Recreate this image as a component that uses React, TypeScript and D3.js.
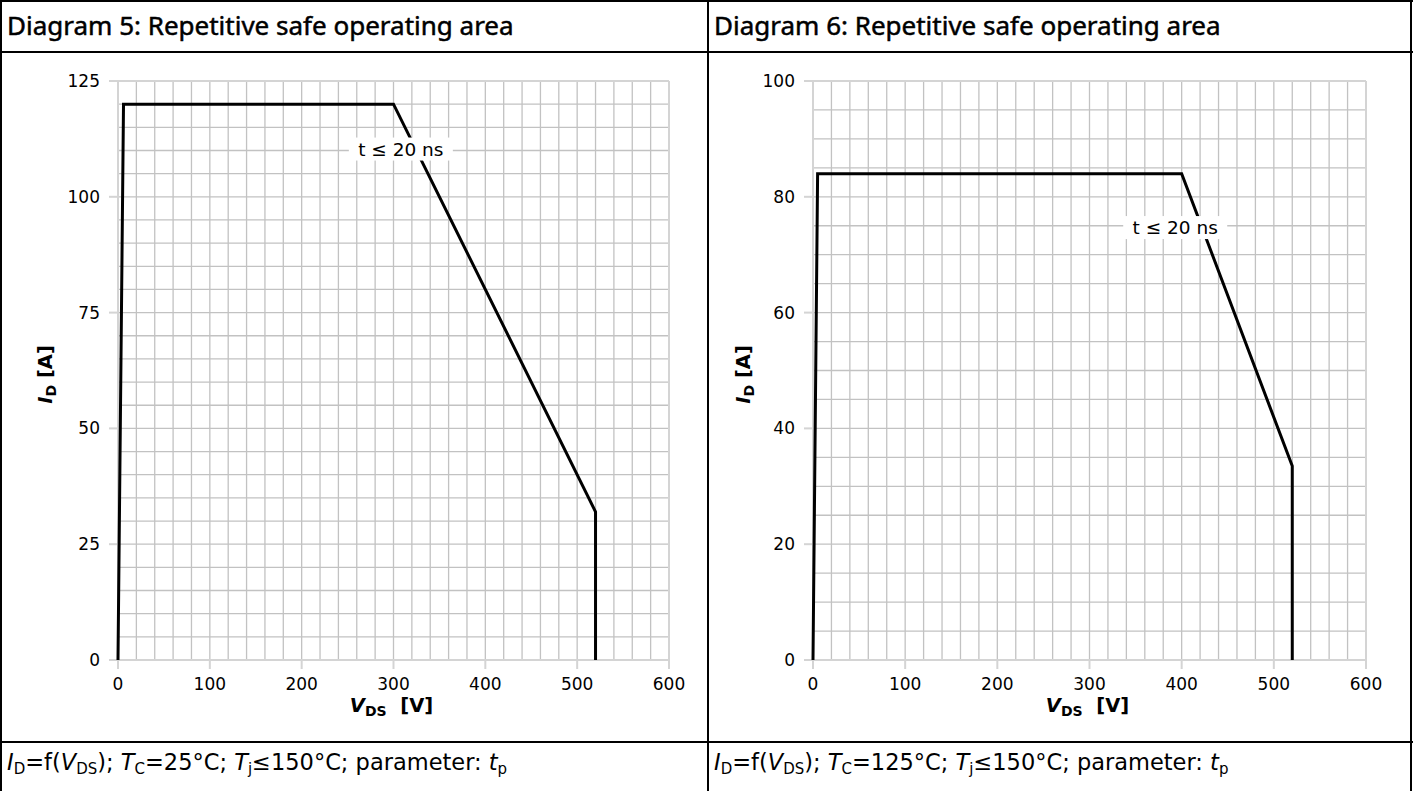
import React from "react";
import * as d3 from "d3";

const W = 1413;
const H = 791;

// Diagram 5 (T_C = 25°C)
const d5Vds = [0, 6, 300, 520, 520];
const d5Id = [0, 120, 120, 32, 0];
// Diagram 6 (T_C = 125°C)
const d6Vds = [0, 5, 400, 520, 520];
const d6Id = [0, 84, 84, 33.5, 0];

const xTicks = [0, 100, 200, 300, 400, 500, 600];
const d5YTicks = [0, 25, 50, 75, 100, 125];
const d6YTicks = [0, 20, 40, 60, 80, 100];

const titles = ["Diagram 5: Repetitive safe operating area", "Diagram 6: Repetitive safe operating area"];
const tcValues = ["25", "125"];
const curveLabel = "t ≤ 20 ns";

const TICK_FONT = "'DejaVu Sans', sans-serif";
const TITLE_FONT = "'Noto Sans', sans-serif";
const NB = "\u00A0";

type PanelProps = {
  x0: number;
  x1: number;
  yMax: number;
  yTicks: number[];
  vds: number[];
  id: number[];
  labelAt: [number, number];
  yLabelX: number;
};

function Panel({ x0, x1, yMax, yTicks, vds, id, labelAt, yLabelX }: PanelProps) {
  const x = d3.scaleLinear().domain([0, 600]).range([x0, x1]);
  const y = d3.scaleLinear().domain([0, yMax]).range([660, 81]);
  const minorX = d3.range(0, 601, 20);
  const minorY = d3.range(0, yMax + 0.001, 5);
  const pts: [number, number][] = vds.map((v, i) => [v, id[i]]);
  const line = d3
    .line<[number, number]>()
    .x((d) => x(d[0]))
    .y((d) => y(d[1]));
  const [lx, ly] = labelAt;
  const lxp = x(lx);
  const lyp = y(ly);
  return (
    <g>
      {minorX.map((v) => (
        <line key={"gx" + v} x1={x(v)} x2={x(v)} y1={y(0)} y2={y(yMax)} stroke="#c2c2c2" strokeWidth={1.3} />
      ))}
      {minorY.map((v) => (
        <line key={"gy" + v} x1={x(0)} x2={x(600)} y1={y(v)} y2={y(v)} stroke="#c2c2c2" strokeWidth={1.3} />
      ))}
      <line x1={x(0)} x2={x(600)} y1={y(yMax)} y2={y(yMax)} stroke="#d4d4d4" strokeWidth={2} />
      <line x1={x(600)} x2={x(600)} y1={y(0)} y2={y(yMax)} stroke="#d4d4d4" strokeWidth={2} />
      <line x1={x(0)} x2={x(600)} y1={y(0)} y2={y(0)} stroke="#d4d4d4" strokeWidth={2} />
      <line x1={x(0)} x2={x(0)} y1={y(0)} y2={y(yMax)} stroke="#d4d4d4" strokeWidth={2} />
      {xTicks.map((v) => (
        <g key={"xt" + v}>
          <line x1={x(v)} x2={x(v)} y1={y(0)} y2={y(0) + 9} stroke="#d4d4d4" strokeWidth={2} />
          <text x={x(v)} y={y(0) + 30} textAnchor="middle" fontFamily={TICK_FONT} fontSize={17} fill="#000">
            {v}
          </text>
        </g>
      ))}
      {yTicks.map((v) => (
        <g key={"yt" + v}>
          <line x1={x(0) - 9} x2={x(0)} y1={y(v)} y2={y(v)} stroke="#d4d4d4" strokeWidth={2} />
          <text x={x(0) - 18} y={y(v) + 6} textAnchor="end" fontFamily={TICK_FONT} fontSize={17} fill="#000">
            {v}
          </text>
        </g>
      ))}
      <path d={line(pts) || ""} fill="none" stroke="#000" strokeWidth={3} strokeLinejoin="miter" />
      <rect x={lxp - 52} y={lyp - 12} width={104} height={23} fill="#fff" />
      <text x={lxp} y={lyp + 6} textAnchor="middle" fontFamily={TICK_FONT} fontSize={18.5} fill="#000">
        {curveLabel}
      </text>
      <text
        x={(x0 + x1) / 2 - 2}
        y={712}
        textAnchor="middle"
        fontFamily={TICK_FONT}
        fontWeight="bold"
        fontSize={19.5}
        fill="#000"
      >
        <tspan fontStyle="italic">V</tspan>
        <tspan fontSize={14} dy={4}>DS</tspan>
        <tspan dy={-4}>{NB + NB + "[V]"}</tspan>
      </text>
      <text
        transform={`translate(${yLabelX},${(y(0) + y(yMax)) / 2 + 4}) rotate(-90)`}
        textAnchor="middle"
        fontFamily={TICK_FONT}
        fontWeight="bold"
        fontSize={19.5}
        fill="#000"
      >
        <tspan fontStyle="italic">I</tspan>
        <tspan fontSize={14} dy={4}>D</tspan>
        <tspan dy={-4}>{NB + "[A]"}</tspan>
      </text>
    </g>
  );
}

function Footer({ x, tc }: { x: number; tc: string }) {
  const S = 15;
  return (
    <text x={x} y={770} fontFamily={TICK_FONT} fontSize={22.5} fill="#000">
      <tspan fontStyle="italic">I</tspan>
      <tspan fontSize={S} dy={4}>D</tspan>
      <tspan dy={-4}>=f(</tspan>
      <tspan fontStyle="italic">V</tspan>
      <tspan fontSize={S} dy={4}>DS</tspan>
      <tspan dy={-4}>{");" + NB}</tspan>
      <tspan fontStyle="italic">T</tspan>
      <tspan fontSize={S} dy={4}>C</tspan>
      <tspan dy={-4}>{"=" + tc + "°C;" + NB}</tspan>
      <tspan fontStyle="italic">T</tspan>
      <tspan fontSize={S} dy={4}>j</tspan>
      <tspan dy={-4}>{"≤150°C; parameter:" + NB}</tspan>
      <tspan fontStyle="italic">t</tspan>
      <tspan fontSize={S} dy={4}>p</tspan>
    </text>
  );
}

export default function App() {
  return (
    <svg
      width={W}
      height={H}
      style={{ position: "absolute", left: 0, top: 0, background: "#fff" }}
      xmlns="http://www.w3.org/2000/svg"
    >
      <rect x={0} y={0} width={W} height={H} fill="#fff" />
      <line x1={1} x2={1} y1={0} y2={H} stroke="#000" strokeWidth={2} />
      <line x1={1411} x2={1411} y1={0} y2={H} stroke="#000" strokeWidth={2} />
      <line x1={708} x2={708} y1={0} y2={H} stroke="#000" strokeWidth={2} />
      <line x1={0} x2={W} y1={1} y2={1} stroke="#000" strokeWidth={2} />
      <line x1={0} x2={W} y1={52} y2={52} stroke="#000" strokeWidth={2} />
      <line x1={0} x2={W} y1={742} y2={742} stroke="#000" strokeWidth={2} />
      <text x={7} y={35} fontFamily={TITLE_FONT} fontWeight={400} fontSize={26} fill="#000" stroke="#000" strokeWidth={0.5}>
        {titles[0]}
      </text>
      <text x={714} y={35} fontFamily={TITLE_FONT} fontWeight={400} fontSize={26} fill="#000" stroke="#000" strokeWidth={0.5}>
        {titles[1]}
      </text>
      <Panel
        x0={118}
        x1={669}
        yMax={125}
        yTicks={d5YTicks}
        vds={d5Vds}
        id={d5Id}
        labelAt={[308, 110.2]}
        yLabelX={52}
      />
      <Panel
        x0={813}
        x1={1366}
        yMax={100}
        yTicks={d6YTicks}
        vds={d6Vds}
        id={d6Id}
        labelAt={[393, 74.6]}
        yLabelX={750}
      />
      <Footer x={7} tc={tcValues[0]} />
      <Footer x={714} tc={tcValues[1]} />
    </svg>
  );
}
